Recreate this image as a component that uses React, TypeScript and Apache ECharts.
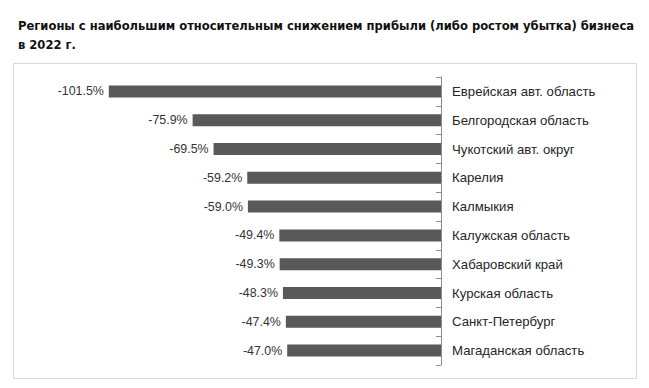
import React, { useEffect, useRef } from "react";
import * as echarts from "echarts";

const categories = [
  "Еврейская авт. область",
  "Белгородская область",
  "Чукотский авт. округ",
  "Карелия",
  "Калмыкия",
  "Калужская область",
  "Хабаровский край",
  "Курская область",
  "Санкт-Петербург",
  "Магаданская область",
];
const values = [-101.5, -75.9, -69.5, -59.2, -59.0, -49.4, -49.3, -48.3, -47.4, -47.0];
const titleLines = [
  "Регионы с наибольшим относительным снижением прибыли (либо ростом убытка) бизнеса",
  "в 2022 г.",
];

export default function App() {
  const ref = useRef<HTMLDivElement>(null);
  useEffect(() => {
    document.body.style.margin = "0";
    const chart = echarts.init(ref.current!, null, { renderer: "svg" });
    chart.setOption({
      animation: false,
      backgroundColor: "#ffffff",
      title: {
        text: titleLines.join("\n"),
        left: 13,
        top: 11,
        textStyle: {
          fontFamily: "'Liberation Sans Narrow', 'Arial Narrow', 'DejaVu Sans Condensed', sans-serif",
          fontWeight: "bold",
          fontSize: 12.85,
          lineHeight: 19,
          color: "#111111",
        },
      },
      graphic: [
        {
          type: "rect",
          shape: { x: 13.5, y: 63.5, width: 623, height: 315 },
          style: { fill: "none", stroke: "#d9d9d9", lineWidth: 1 },
          z: -1,
        },
      ],
      grid: { left: 81, right: 208, top: 77, bottom: 23 },
      xAxis: {
        type: "value",
        min: -110,
        max: 0,
        show: false,
      },
      yAxis: {
        type: "category",
        data: categories,
        inverse: true,
        position: "right",
        axisLine: { show: true, lineStyle: { color: "#8c8c8c", width: 1 } },
        axisTick: { show: true, inside: true, length: 5, lineStyle: { color: "#8c8c8c" } },
        axisLabel: {
          color: "#262626",
          fontSize: 13.2,
          fontFamily: "'Liberation Sans', Arial, sans-serif",
          margin: 11,
        },
      },
      series: [
        {
          type: "bar",
          data: values,
          barWidth: 12,
          itemStyle: { color: "#595959" },
          label: {
            show: true,
            position: "left",
            distance: 5,
            color: "#333333",
            fontSize: 12.4,
            fontFamily: "'Liberation Sans', Arial, sans-serif",
            formatter: (p: any) => p.value.toFixed(1) + "%",
          },
        },
      ],
    });
    return () => chart.dispose();
  }, []);
  return (
    <div
      ref={ref}
      style={{ position: "absolute", left: 0, top: 0, width: 649, height: 388 }}
    />
  );
}
